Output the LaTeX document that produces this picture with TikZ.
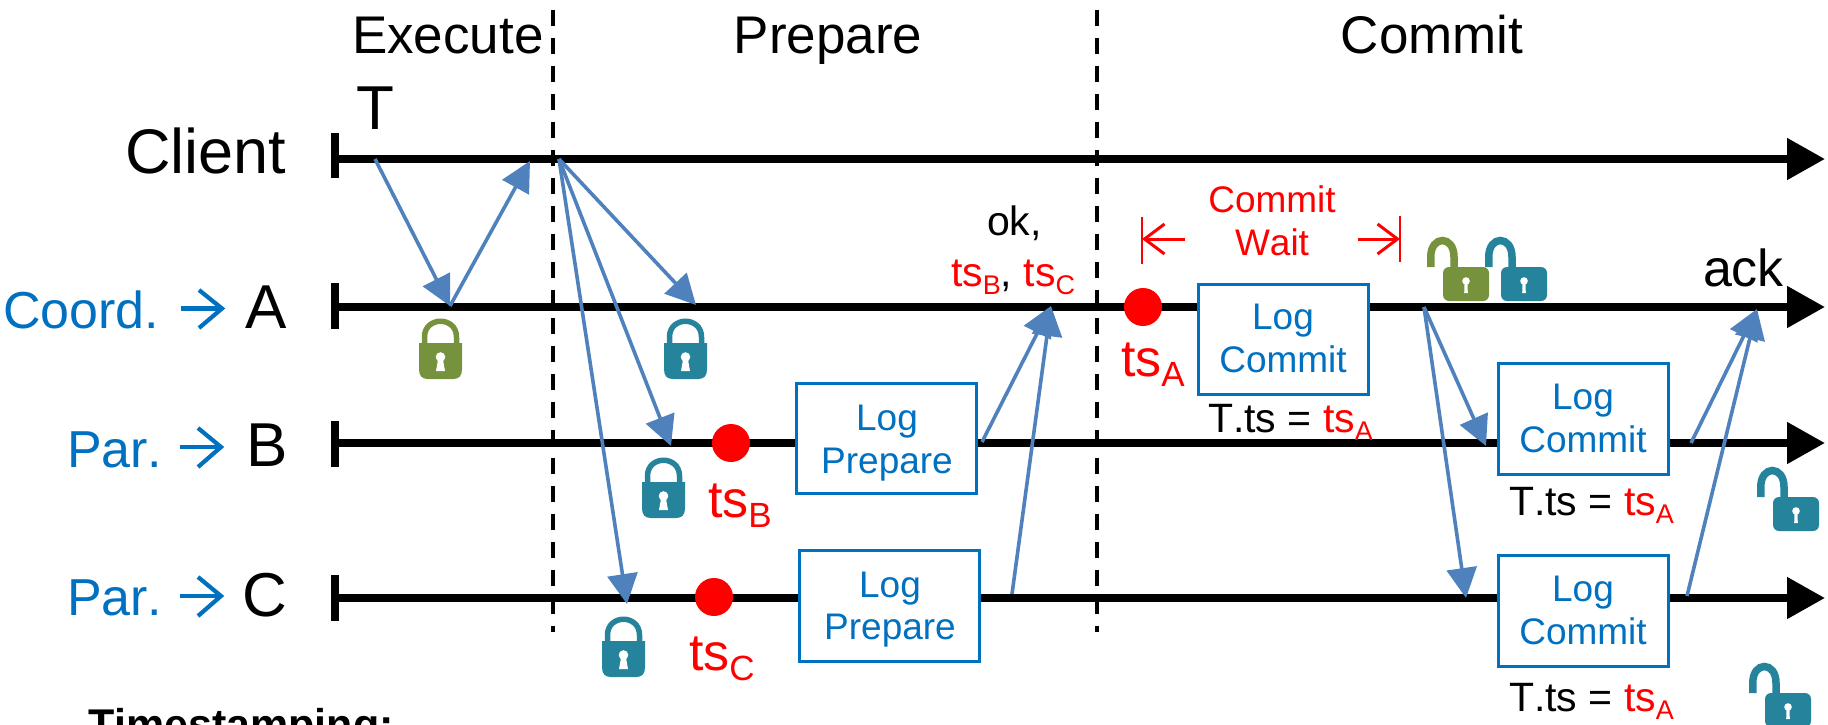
\documentclass[tikz,border=0pt]{standalone}
\usepackage{fontspec}
\setmainfont[Kerning=Off]{Liberation Sans}
\usetikzlibrary{arrows.meta}
\definecolor{pblue}{HTML}{0070C0}
\definecolor{abl}{HTML}{4F81BD}
\definecolor{lgreen}{HTML}{76923C}
\definecolor{lteal}{HTML}{25839B}
\definecolor{pred}{HTML}{FF0000}
\newcommand{\fsz}[1]{\fontsize{#1}{#1}\selectfont}
\newcommand{\rts}[2]{\textcolor{pred}{\fsz{#1}ts\raisebox{-0.2\dimexpr#1pt\relax}{\fsz{\numexpr #1*2/3\relax}#2}}}
\tikzset{
  txt/.style={inner sep=0pt,outer sep=0pt,anchor=base west,align=left},
  ctr/.style={inner sep=0pt,outer sep=0pt,anchor=base},
  timeline/.style={line width=8pt,-{Triangle[length=38pt,width=40pt]},shorten >=2pt},
  tick/.style={line width=8pt},
  sep/.style={line width=3.5pt,dash pattern=on 16pt off 12pt},
  msg/.style={line width=3.6pt,abl,-{Triangle[length=30pt,width=30pt]}},
  logbox/.style={draw=pblue,fill=white,line width=3pt,inner sep=0pt,outer sep=0pt,anchor=north west,align=center,text=pblue},
  dot/.style={circle,fill=pred,minimum size=38pt,inner sep=0pt},
  wait/.style={line width=3pt,pred,-{Straight Barb[length=20pt,width=30pt,line width=3pt]}},
  waittick/.style={line width=2.8pt,pred},
  role/.style={line width=4.2pt,pblue},
  closedlock/.pic={
    \draw[pic actions,fill=none,line width=5.5pt] (5.5,26) -- (5.5,18) .. controls (5.5,-3) and (37.5,-3) .. (37.5,18) -- (37.5,26);
    \fill[pic actions,draw=none] (0,24) -- (43,24) -- (43,50) .. controls (43,57) and (40,60) .. (34,60) -- (9,60) .. controls (3,60) and (0,57) .. (0,50) -- cycle;
    \fill[white] (21.5,38) circle (4.8);
    \fill[white] (19.5,38) -- (23.5,38) -- (26,52) -- (17,52) -- cycle;
  },
  openlock/.pic={
    \draw[pic actions,fill=none,line width=7.5pt] (3.75,28) -- (3.75,18) .. controls (3.75,-4) and (27,-4) .. (27,18) -- (27,30);
    \fill[pic actions,draw=none,rounded corners=6pt] (16,28) rectangle (62,62);
    \fill[white] (39,42) circle (3.8);
    \fill[white] (37.6,42) -- (40.4,42) -- (40.8,54) -- (37.2,54) -- cycle;
  },
}
\begin{document}
\begin{tikzpicture}[x=1pt,y=-1pt]
\useasboundingbox (0,0) rectangle (1828,724);
\clip (0,0) rectangle (1828,724);
% timelines
\coordinate (c0) at (335,159); \coordinate (c1) at (1827,159);
\coordinate (a0) at (335,307); \coordinate (a1) at (1827,307);
\coordinate (b0) at (335,443); \coordinate (b1) at (1827,443);
\coordinate (d0) at (335,598); \coordinate (d1) at (1827,598);
\draw[tick] (335,133) -- (335,178);
\draw[tick] (335,283) -- (335,329);
\draw[tick] (335,421) -- (335,467);
\draw[tick] (335,575) -- (335,621);
\draw[timeline] (c0) -- (c1);
\draw[timeline] (a0) -- (a1);
\draw[timeline] (b0) -- (b1);
\draw[timeline] (d0) -- (d1);
% phase separators
\coordinate (s1a) at (553,10); \coordinate (s1b) at (553,632);
\coordinate (s2a) at (1097,10); \coordinate (s2b) at (1097,632);
\draw[sep] (s1a) -- (s1b);
\draw[sep] (s2a) -- (s2b);
% headings
\node[txt] (hExec) at (352,53) {\fsz{53}Execute};
\node[ctr] (hPrep) at (828,53) {\fsz{53}Prepare};
\node[ctr] (hComm) at (1432,53) {\fsz{53}Commit};
\node[txt] (hT) at (356,129) {\fsz{62}T};
% left labels
\node[txt] (lClient) at (125,173) {\fsz{63}Client};
\node[txt] (lCoord) at (3,328) {\fsz{52}\textcolor{pblue}{Coord.}};
\node[txt] (lA) at (245,328) {\fsz{62}A};
\node[txt] (lParB) at (67,467) {\fsz{52}\textcolor{pblue}{Par.}};
\node[txt] (lB) at (246,466) {\fsz{62}B};
\node[txt] (lParC) at (67,615) {\fsz{52}\textcolor{pblue}{Par.}};
\node[txt] (lC) at (242,616) {\fsz{62}C};
% role arrows
\draw[role] (181,308.5) -- (221,308.5);
\draw[role,miter limit=10] (199,290) -- (222,308.5) -- (199,328);
\draw[role] (180,447) -- (220,447);
\draw[role,miter limit=10] (198,428) -- (221,447) -- (198,467);
\draw[role] (180,596) -- (220,596);
\draw[role,miter limit=10] (198,577) -- (221,596) -- (198,616);
% locks
\pic[lgreen,fill=lgreen,draw=lgreen] at (419,319) {closedlock};
\pic[lteal,fill=lteal,draw=lteal] at (664,319) {closedlock};
\pic[lteal,fill=lteal,draw=lteal] at (642,458) {closedlock};
\pic[lteal,fill=lteal,draw=lteal] at (602,617) {closedlock};
\pic[lgreen,fill=lgreen,draw=lgreen] at (1427,239) {openlock};
\pic[lteal,fill=lteal,draw=lteal] at (1485,239) {openlock};
\pic[lteal,fill=lteal,draw=lteal] at (1757,469) {openlock};
\pic[lteal,fill=lteal,draw=lteal] at (1749,665) {openlock};
% timestamps
\node[dot] (dA) at (1143,307) {};
\node[dot] (dB) at (731,443) {};
\node[dot] (dC) at (714,597) {};
\node[txt] (tsA) at (1121,376) {\rts{52}{A}};
\node[txt] (tsB) at (708,517) {\rts{52}{B}};
\node[txt] (tsC) at (689,670) {\rts{52}{C}};
% log boxes
\node[logbox,minimum width=180pt,minimum height=110pt] (lpB) at (796,383) {};
\node[ctr,text=pblue] (lpB1) at (887,430) {\fsz{37}Log};
\node[ctr,text=pblue] (lpB2) at (887,473) {\fsz{37}Prepare};
\node[logbox,minimum width=180pt,minimum height=111pt] (lpC) at (799.5,550) {};
\node[ctr,text=pblue] (lpC1) at (890,597) {\fsz{37}Log};
\node[ctr,text=pblue] (lpC2) at (890,639) {\fsz{37}Prepare};
\node[logbox,minimum width=170pt,minimum height=110pt] (lcA) at (1198,284) {};
\node[ctr,text=pblue] (lcA1) at (1283,329) {\fsz{37}Log};
\node[ctr,text=pblue] (lcA2) at (1283,372) {\fsz{37}Commit};
\node[logbox,minimum width=170pt,minimum height=111pt] (lcB) at (1498,363) {};
\node[ctr,text=pblue] (lcB1) at (1583,409) {\fsz{37}Log};
\node[ctr,text=pblue] (lcB2) at (1583,452) {\fsz{37}Commit};
\node[logbox,minimum width=170pt,minimum height=111pt] (lcC) at (1498,555) {};
\node[ctr,text=pblue] (lcC1) at (1583,601) {\fsz{37}Log};
\node[ctr,text=pblue] (lcC2) at (1583,644) {\fsz{37}Commit};
% T.ts labels
\node[txt] (ttA) at (1208,432) {\fsz{41}T.ts = \rts{41}{A}};
\node[txt] (ttB) at (1509,515) {\fsz{41}T.ts = \rts{41}{A}};
\node[txt] (ttC) at (1509,711) {\fsz{41}T.ts = \rts{41}{A}};
% ok label
\node[txt] (ok) at (987,235) {\fsz{41}ok,};
\node[txt] (okts) at (951,286) {\rts{41}{B}\fsz{41}, \rts{41}{C}};
\node[txt] (ack) at (1703,286) {\fsz{52}ack};
% commit wait
\node[ctr,text=pred] (cw1) at (1272,212) {\fsz{37}Commit};
\node[ctr,text=pred] (cw2) at (1272,255) {\fsz{37}Wait};
\coordinate (wl) at (1142,239); \coordinate (wr) at (1400,239);
\coordinate (wl0) at (1185,239); \coordinate (wr0) at (1358,239);
\draw[waittick] (1142,217) -- (1142,264);
\draw[waittick] (1400,216) -- (1400,262);
\draw[wait] (wl0) -- (wl);
\draw[wait] (wr0) -- (wr);
% message arrows
\coordinate (mT) at (375,159); \coordinate (mLock) at (450,306); \coordinate (mRet) at (530,161);
\coordinate (mP) at (559,159); \coordinate (mPA) at (696,305); \coordinate (mPB) at (671,446); \coordinate (mPC) at (627,604);
\coordinate (mOkB) at (982,442); \coordinate (mOkC) at (1012,594); \coordinate (mOk) at (1051,306);
\coordinate (mC) at (1424,307); \coordinate (mCB) at (1486,446); \coordinate (mCC) at (1466,598);
\coordinate (mAB) at (1691,443); \coordinate (mAC) at (1687,596); \coordinate (mAck) at (1757,309);
\draw[msg] (mT) -- (mLock);
\draw[msg] (mLock) -- (mRet);
\draw[msg] (mP) -- (mPA);
\draw[msg] (mP) -- (mPB);
\draw[msg] (mP) -- (mPC);
\draw[msg] (mOkB) -- (mOk);
\draw[msg] (mOkC) -- (mOk);
\draw[msg] (mC) -- (mCB);
\draw[msg] (mC) -- (mCC);
\draw[msg] (mAB) -- (mAck);
\draw[msg] (mAC) -- (mAck);
% cut-off footer
\node[txt] (foot) at (88,739) {\fsz{43}\bfseries Timestamping:};
\end{tikzpicture}
\end{document}
